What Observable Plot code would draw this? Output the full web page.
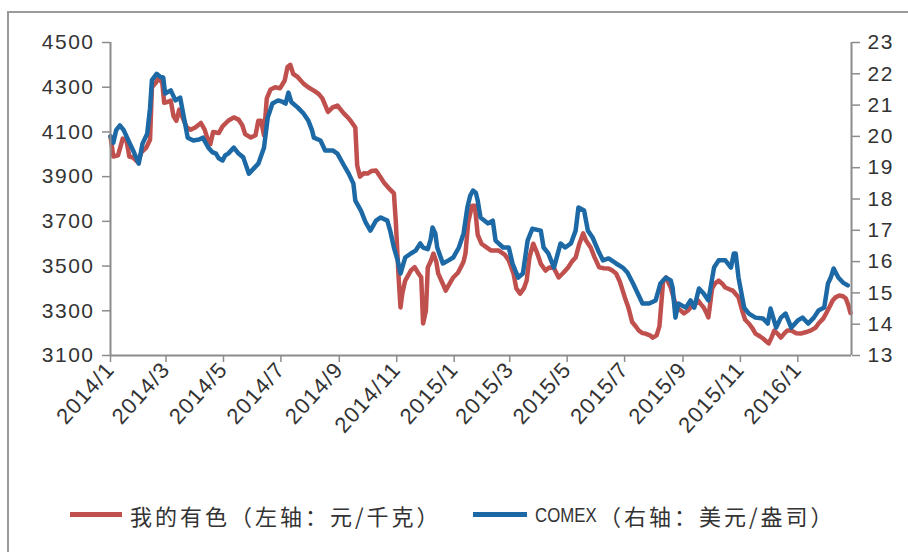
<!DOCTYPE html>
<html>
<head>
<meta charset="utf-8">
<script src="https://cdn.jsdelivr.net/npm/d3@7"></script>
<script src="https://cdn.jsdelivr.net/npm/@observablehq/plot@0.6"></script>
<style>
  html, body { margin: 0; padding: 0; background: #fff; }
  #wrap { position: relative; width: 908px; height: 552px; overflow: hidden; background: #fff; }
  #border { position: absolute; left: 7px; top: 11px; width: 1000px; height: 1000px; border-left: 2px solid #9a9a9a; border-top: 2px solid #9a9a9a; }
  #chart { position: absolute; left: 0; top: 0; }
  #chart g[aria-label="y-axis tick label"] text { letter-spacing: 1.5px; }
  #chart g[aria-label="x-axis tick label"] text { letter-spacing: 1.2px; }
  .sw { position: absolute; height: 5px; }
  .lg { position: absolute; font-family: "Noto Sans CJK SC", sans-serif; font-size: 22px; letter-spacing: 3px; color: #333; line-height: 1; white-space: nowrap; }
  .comex { position: absolute; font-family: "Liberation Sans", Arial, sans-serif; font-size: 21px; color: #333; line-height: 1; transform: scaleX(0.8); transform-origin: left center; white-space: nowrap; }
</style>
</head>
<body>
<div id="wrap">
  <div id="border"></div>
  <div id="chart"></div>
</div>
<script>
// ---- data ----
const leftTicks = [3100, 3300, 3500, 3700, 3900, 4100, 4300, 4500];
const rightTicks = [13, 14, 15, 16, 17, 18, 19, 20, 21, 22, 23];
const xTickLabels = ["2014/1","2014/3","2014/5","2014/7","2014/9","2014/11","2015/1","2015/3","2015/5","2015/7","2015/9","2015/11","2016/1"];
const seriesNames = ["我的有色（左轴：元/千克）", "COMEX（右轴：美元/盎司）"];

// 我的有色 (left axis, 元/千克)
const redSeries = [
["2014-01-01",4080],["2014-01-04",3990],["2014-01-09",3995],["2014-01-14",4070],["2014-01-18",4060],["2014-01-21",3990],["2014-01-25",3985],["2014-01-30",3965],["2014-02-03",4010],["2014-02-08",4030],["2014-02-12",4065],["2014-02-14",4300],["2014-02-18",4320],["2014-02-21",4340],["2014-02-25",4320],["2014-02-27",4230],["2014-03-03",4235],["2014-03-06",4240],["2014-03-09",4170],["2014-03-12",4150],["2014-03-15",4200],["2014-03-18",4170],["2014-03-23",4120],["2014-03-27",4110],["2014-04-01",4120],["2014-04-07",4140],["2014-04-11",4110],["2014-04-14",4070],["2014-04-17",4045],["2014-04-20",4100],["2014-04-26",4095],["2014-04-30",4125],["2014-05-06",4150],["2014-05-12",4165],["2014-05-17",4155],["2014-05-21",4130],["2014-05-24",4090],["2014-05-30",4075],["2014-06-04",4085],["2014-06-07",4150],["2014-06-10",4150],["2014-06-13",4085],["2014-06-16",4250],["2014-06-20",4290],["2014-06-25",4300],["2014-06-30",4295],["2014-07-05",4330],["2014-07-08",4390],["2014-07-11",4400],["2014-07-14",4360],["2014-07-19",4345],["2014-07-25",4316],["2014-07-30",4300],["2014-08-05",4285],["2014-08-10",4270],["2014-08-14",4250],["2014-08-20",4190],["2014-08-25",4210],["2014-08-30",4218],["2014-09-06",4182],["2014-09-10",4165],["2014-09-13",4150],["2014-09-18",4120],["2014-09-20",3950],["2014-09-23",3900],["2014-09-27",3915],["2014-10-01",3914],["2014-10-05",3925],["2014-10-10",3927],["2014-10-15",3896],["2014-10-19",3870],["2014-10-23",3851],["2014-10-29",3825],["2014-10-31",3700],["2014-11-03",3450],["2014-11-05",3315],["2014-11-07",3380],["2014-11-10",3435],["2014-11-16",3480],["2014-11-20",3495],["2014-11-24",3467],["2014-11-27",3450],["2014-11-29",3243],["2014-12-02",3300],["2014-12-04",3494],["2014-12-07",3520],["2014-12-10",3556],["2014-12-13",3520],["2014-12-15",3467],["2014-12-20",3420],["2014-12-23",3390],["2014-12-27",3420],["2014-12-31",3449],["2015-01-05",3470],["2015-01-08",3494],["2015-01-11",3520],["2015-01-13",3556],["2015-01-16",3700],["2015-01-20",3770],["2015-01-23",3770],["2015-01-26",3640],["2015-01-30",3600],["2015-02-04",3585],["2015-02-09",3570],["2015-02-17",3570],["2015-02-24",3550],["2015-02-28",3525],["2015-03-05",3467],["2015-03-08",3400],["2015-03-12",3377],["2015-03-16",3400],["2015-03-19",3435],["2015-03-22",3540],["2015-03-26",3600],["2015-03-30",3560],["2015-04-03",3510],["2015-04-08",3480],["2015-04-12",3494],["2015-04-17",3490],["2015-04-22",3449],["2015-04-27",3470],["2015-05-02",3494],["2015-05-06",3520],["2015-05-10",3538],["2015-05-14",3600],["2015-05-18",3646],["2015-05-21",3614],["2015-05-26",3583],["2015-05-30",3540],["2015-06-04",3494],["2015-06-09",3490],["2015-06-14",3489],["2015-06-18",3480],["2015-06-22",3467],["2015-06-26",3430],["2015-06-29",3390],["2015-07-02",3350],["2015-07-05",3315],["2015-07-09",3250],["2015-07-13",3230],["2015-07-16",3212],["2015-07-20",3200],["2015-07-23",3198],["2015-07-28",3190],["2015-07-31",3180],["2015-08-04",3190],["2015-08-07",3230],["2015-08-11",3435],["2015-08-14",3449],["2015-08-19",3404],["2015-08-22",3360],["2015-08-25",3315],["2015-08-30",3300],["2015-09-02",3288],["2015-09-06",3300],["2015-09-09",3315],["2015-09-14",3330],["2015-09-17",3346],["2015-09-20",3330],["2015-09-23",3315],["2015-09-26",3290],["2015-09-28",3270],["2015-10-02",3400],["2015-10-05",3422],["2015-10-09",3435],["2015-10-13",3420],["2015-10-16",3404],["2015-10-21",3395],["2015-10-24",3390],["2015-10-27",3375],["2015-10-30",3360],["2015-11-03",3300],["2015-11-06",3260],["2015-11-10",3243],["2015-11-14",3220],["2015-11-17",3198],["2015-11-22",3185],["2015-11-25",3176],["2015-11-28",3165],["2015-12-01",3154],["2015-12-04",3180],["2015-12-07",3212],["2015-12-11",3195],["2015-12-14",3180],["2015-12-18",3200],["2015-12-21",3212],["2015-12-25",3212],["2015-12-30",3200],["2016-01-04",3198],["2016-01-10",3205],["2016-01-15",3212],["2016-01-20",3225],["2016-01-23",3243],["2016-01-28",3265],["2016-01-31",3288],["2016-02-04",3320],["2016-02-07",3346],["2016-02-10",3360],["2016-02-14",3368],["2016-02-18",3365],["2016-02-21",3355],["2016-02-24",3320],["2016-02-26",3290]
];

// COMEX (right axis, 美元/盎司)
const blueSeries = [
["2014-01-01",20.0],["2014-01-04",19.8],["2014-01-07",20.2],["2014-01-11",20.35],["2014-01-15",20.2],["2014-01-20",19.87],["2014-01-25",19.55],["2014-01-31",19.13],["2014-02-04",19.77],["2014-02-09",20.09],["2014-02-12",20.9],["2014-02-14",21.8],["2014-02-19",22.0],["2014-02-23",21.9],["2014-02-26",21.88],["2014-02-28",21.37],["2014-03-06",21.47],["2014-03-11",21.15],["2014-03-16",21.24],["2014-03-20",20.6],["2014-03-24",19.96],["2014-03-30",19.87],["2014-04-05",19.9],["2014-04-09",19.96],["2014-04-15",19.64],["2014-04-19",19.5],["2014-04-23",19.45],["2014-04-26",19.3],["2014-04-30",19.23],["2014-05-03",19.4],["2014-05-06",19.45],["2014-05-12",19.64],["2014-05-17",19.45],["2014-05-22",19.33],["2014-05-28",18.81],["2014-06-02",18.97],["2014-06-07",19.13],["2014-06-13",19.64],["2014-06-17",20.6],["2014-06-22",21.05],["2014-06-28",21.15],["2014-07-03",21.1],["2014-07-06",21.05],["2014-07-09",21.4],["2014-07-12",21.1],["2014-07-19",20.92],["2014-07-25",20.73],["2014-07-30",20.51],["2014-08-03",20.2],["2014-08-05",19.96],["2014-08-12",19.87],["2014-08-17",19.55],["2014-08-25",19.55],["2014-08-30",19.45],["2014-09-06",19.07],["2014-09-11",18.81],["2014-09-16",18.49],["2014-09-18",17.95],["2014-09-24",17.63],["2014-09-29",17.25],["2014-10-04",16.99],["2014-10-10",17.31],["2014-10-15",17.41],["2014-10-22",17.31],["2014-10-25",16.99],["2014-10-29",16.45],["2014-11-02",16.04],["2014-11-05",15.62],["2014-11-10",16.13],["2014-11-16",16.26],["2014-11-21",16.35],["2014-11-26",16.58],["2014-11-29",16.45],["2014-12-04",16.4],["2014-12-07",16.7],["2014-12-09",17.09],["2014-12-12",16.9],["2014-12-14",16.45],["2014-12-20",15.94],["2014-12-26",16.04],["2014-12-31",16.13],["2015-01-06",16.45],["2015-01-11",16.9],["2015-01-15",17.73],["2015-01-18",18.1],["2015-01-21",18.27],["2015-01-24",18.2],["2015-01-26",17.95],["2015-01-29",17.41],["2015-02-06",17.22],["2015-02-11",17.31],["2015-02-14",16.67],["2015-02-22",16.45],["2015-02-28",16.45],["2015-03-04",15.94],["2015-03-10",15.49],["2015-03-15",15.62],["2015-03-20",16.67],["2015-03-25",17.05],["2015-04-03",16.99],["2015-04-06",16.45],["2015-04-11",16.26],["2015-04-17",15.81],["2015-04-24",16.58],["2015-04-29",16.45],["2015-05-05",16.58],["2015-05-10",16.99],["2015-05-13",17.73],["2015-05-19",17.63],["2015-05-23",16.99],["2015-05-28",16.77],["2015-06-03",16.35],["2015-06-08",16.04],["2015-06-14",16.1],["2015-06-22",15.94],["2015-06-29",15.81],["2015-07-04",15.65],["2015-07-10",15.3],["2015-07-15",14.98],["2015-07-20",14.66],["2015-07-27",14.66],["2015-08-03",14.76],["2015-08-08",15.3],["2015-08-14",15.49],["2015-08-19",15.4],["2015-08-21",15.17],["2015-08-24",14.21],["2015-08-27",14.66],["2015-09-04",14.53],["2015-09-09",14.76],["2015-09-13",14.53],["2015-09-18",15.14],["2015-09-23",14.98],["2015-09-28",14.76],["2015-10-04",15.81],["2015-10-09",16.04],["2015-10-16",16.04],["2015-10-22",15.81],["2015-10-25",16.26],["2015-10-27",16.26],["2015-10-30",15.49],["2015-11-05",14.53],["2015-11-10",14.34],["2015-11-17",14.21],["2015-11-25",14.18],["2015-11-30",14.02],["2015-12-03",14.5],["2015-12-09",13.89],["2015-12-14",14.21],["2015-12-19",14.34],["2015-12-25",13.89],["2016-01-01",14.12],["2016-01-06",14.21],["2016-01-12",14.02],["2016-01-18",14.21],["2016-01-23",14.44],["2016-01-29",14.53],["2016-02-02",15.3],["2016-02-05",15.49],["2016-02-08",15.78],["2016-02-13",15.49],["2016-02-18",15.33],["2016-02-23",15.24]
];

const xStart = "2014-01-01", xEnd = "2016-02-27";
const redColor = "#C0504D", blueColor = "#1C69A5";

// ---- helpers ----
const parseLabel = s => { const [y, m] = s.split("/").map(Number); return new Date(Date.UTC(y, m - 1, 1)); };
const xTickDates = xTickLabels.map(parseLabel);
const labelOf = new Map(xTickDates.map((d, i) => [+d, xTickLabels[i]]));
// right axis (13..23) mapped onto left axis (3100..4500)
const [l0, l1] = [leftTicks[0], leftTicks[leftTicks.length - 1]];
const [r0, r1] = [rightTicks[0], rightTicks[rightTicks.length - 1]];
const toLeft = v => l0 + (v - r0) * (l1 - l0) / (r1 - r0);
const rightOf = new Map(rightTicks.map(v => [toLeft(v), v]));

const red = redSeries.map(([d, v]) => ({date: new Date(d), value: v}));
const blue = blueSeries.map(([d, v]) => ({date: new Date(d), value: toLeft(v)}));

const axisGray = "#8c8c8c";
const chart = Plot.plot({
  width: 908,
  height: 470,
  marginLeft: 110,
  marginRight: 57,
  marginTop: 42,
  marginBottom: 115,
  x: {type: "utc", domain: [new Date(xStart), new Date(xEnd)]},
  y: {domain: [l0, l1]},
  style: {fontFamily: "'Liberation Sans', Arial, sans-serif", fontSize: "21px", background: "transparent", color: "#333"},
  marks: [
    Plot.line(red, {x: "date", y: "value", stroke: redColor, strokeWidth: 4.5, strokeLinejoin: "round"}),
    Plot.line(blue, {x: "date", y: "value", stroke: blueColor, strokeWidth: 4.5, strokeLinejoin: "round"}),
    Plot.ruleX([new Date(xStart)], {stroke: axisGray, strokeWidth: 2}),
    Plot.ruleX([new Date(xEnd)], {stroke: axisGray, strokeWidth: 2}),
    Plot.ruleY([l0], {stroke: axisGray, strokeWidth: 2}),
    Plot.axisY({anchor: "left", ticks: leftTicks, tickFormat: d => String(d), tickSize: 8, tickPadding: 8,
      label: null, stroke: axisGray, strokeWidth: 1.5, fill: "#333", fontSize: 21}),
    Plot.axisY({anchor: "right", ticks: rightTicks.map(toLeft), tickFormat: d => String(rightOf.get(d)), tickSize: 8, tickPadding: 8,
      label: null, stroke: axisGray, strokeWidth: 1.5, fill: "#333", fontSize: 21}),
    Plot.axisX({ticks: xTickDates, tickFormat: d => labelOf.get(+d), tickRotate: -48, tickSize: 7, tickPadding: 3,
      label: null, stroke: axisGray, strokeWidth: 1.5, fill: "#333", fontSize: 22})
  ]
});
document.getElementById("chart").appendChild(chart);

// ---- legend (below the SVG) ----
const wrap = document.getElementById("wrap");
function add(cls, css, text) {
  const el = document.createElement("div");
  el.className = cls;
  Object.assign(el.style, css);
  if (text) el.textContent = text;
  wrap.appendChild(el);
}
add("sw", {left: "70px", top: "512px", width: "52px", background: redColor});
add("lg", {left: "130px", top: "504px"}, seriesNames[0]);
add("sw", {left: "473px", top: "512px", width: "54px", background: blueColor});
const [cm, rest] = [seriesNames[1].slice(0, 5), seriesNames[1].slice(5)];
add("comex", {left: "535px", top: "504px"}, cm);
add("lg", {left: "599px", top: "504px"}, rest);
</script>
</body>
</html>
